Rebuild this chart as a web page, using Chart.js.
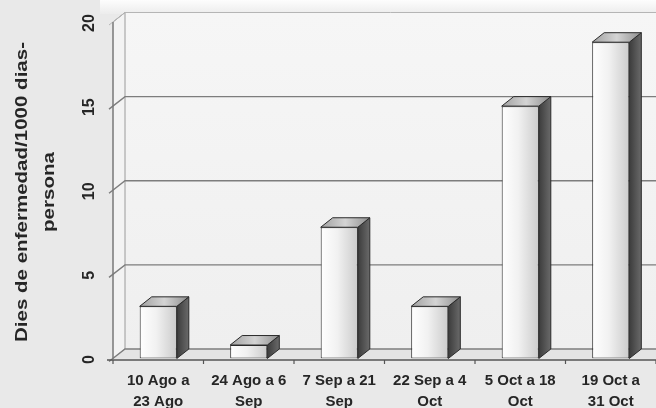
<!DOCTYPE html>
<html>
<head>
<meta charset="utf-8">
<script src="https://cdn.jsdelivr.net/npm/chart.js@4/dist/chart.umd.min.js"></script>
<style>
  html, body { margin: 0; padding: 0; background: #e9e9e9; }
  #wrap { width: 656px; height: 408px; }
</style>
</head>
<body>
<div id="wrap"><canvas id="c" width="656" height="408"></canvas></div>
<script>
// Periods (two-line labels) and sick days per 1000 person-days
const categories = [
  ["10 Ago a", "23 Ago"],
  ["24 Ago a 6", "Sep"],
  ["7 Sep a 21", "Sep"],
  ["22 Sep a 4", "Oct"],
  ["5 Oct a 18", "Oct"],
  ["19 Oct a", "31 Oct"]
];
const values = [3.1, 0.8, 7.8, 3.1, 15, 18.8];
const yTicks = [0, 5, 10, 15, 20];
const yTitle = ["Dies de enfermedad/1000 dias-", "persona"];

// depth of the box walls and of the columns
const WALL_DX = 12, WALL_DY = 9.5;
const BAR_DX = 12, BAR_DY = 9.5;
const BAR_PCT = 0.41;
const FONT = "'Liberation Sans', Arial, sans-serif";
const TITLE_LEN = 300; // length of the first title line along the axis

function frontFill(c) {
  const chart = c.chart;
  const xs = chart.scales.x;
  if (!xs || !chart.chartArea) return '#eeeeee';
  const cx = xs.getPixelForValue(c.dataIndex);
  const hw = (xs.width / categories.length) * BAR_PCT / 2;
  const g = chart.ctx.createLinearGradient(cx - hw, 0, cx + hw, 0);
  g.addColorStop(0, '#ffffff');
  g.addColorStop(0.45, '#f1f1f1');
  g.addColorStop(1, '#cbcbcb');
  return g;
}

const box3d = {
  id: 'box3d',
  beforeDraw(chart) {
    const ctx = chart.ctx;
    ctx.save();
    ctx.fillStyle = '#e9e9e9';
    ctx.fillRect(0, 0, chart.width, chart.height);
    const g = ctx.createLinearGradient(0, 0, 0, 14);
    g.addColorStop(0, '#fdfdfd');
    g.addColorStop(1, '#ececec');
    ctx.fillStyle = g;
    ctx.fillRect(100, 0, chart.width - 100, 14);
    ctx.restore();
  },
  beforeDatasetsDraw(chart) {
    const { ctx, chartArea: a, scales: { y } } = chart;
    const top = y.getPixelForValue(20), bot = y.getPixelForValue(0);
    const bx = a.left + WALL_DX;
    ctx.save();
    // back wall
    const wg = ctx.createLinearGradient(0, top - WALL_DY, 0, bot - WALL_DY);
    wg.addColorStop(0, '#f6f6f6');
    wg.addColorStop(1, '#efefef');
    ctx.fillStyle = wg;
    ctx.fillRect(bx, top - WALL_DY, a.right - bx, bot - top);
    // side wall
    ctx.beginPath();
    ctx.moveTo(a.left, top); ctx.lineTo(bx, top - WALL_DY);
    ctx.lineTo(bx, bot - WALL_DY); ctx.lineTo(a.left, bot); ctx.closePath();
    ctx.fillStyle = '#f3f3f3';
    ctx.fill();
    ctx.strokeStyle = '#9a9a9a'; ctx.lineWidth = 1;
    ctx.stroke();
    // floor
    ctx.beginPath();
    ctx.moveTo(a.left, bot); ctx.lineTo(bx, bot - WALL_DY);
    ctx.lineTo(a.right, bot - WALL_DY); ctx.lineTo(a.right, bot); ctx.closePath();
    ctx.fillStyle = '#e4e4e4';
    ctx.fill();
    // grid lines on side and back walls
    yTicks.forEach(v => {
      const py = y.getPixelForValue(v);
      ctx.beginPath();
      ctx.moveTo(a.left - 4, py + 3);
      ctx.lineTo(bx, py - WALL_DY);
      ctx.lineTo(a.right, py - WALL_DY);
      ctx.strokeStyle = v === 20 ? '#b5b5b5' : '#7d7d7d';
      ctx.lineWidth = v === 20 ? 1 : 1.4;
      ctx.stroke();
    });
    // vertical axis edge
    ctx.beginPath();
    ctx.moveTo(a.left, top); ctx.lineTo(a.left, bot);
    ctx.strokeStyle = '#777'; ctx.lineWidth = 1.2;
    ctx.stroke();
    // tick labels, rotated
    ctx.fillStyle = '#262626';
    ctx.font = 'bold 16px ' + FONT;
    ctx.textAlign = 'center';
    ctx.textBaseline = 'middle';
    yTicks.forEach(v => {
      const py = y.getPixelForValue(v) + 1;
      ctx.save();
      ctx.translate(90, py);
      ctx.rotate(-Math.PI / 2);
      ctx.fillText(String(v), 0, 0);
      ctx.restore();
    });
    // axis title, widened to span the axis
    ctx.font = 'bold 17px ' + FONT;
    const sx = TITLE_LEN / ctx.measureText(yTitle[0]).width;
    ctx.save();
    ctx.translate(22, 192);
    ctx.rotate(-Math.PI / 2);
    ctx.scale(sx, 1);
    ctx.fillText(yTitle[0], 0, 0);
    ctx.fillText(yTitle[1], 0, 27);
    ctx.restore();
    ctx.restore();
  },
  afterDatasetsDraw(chart) {
    const { ctx, chartArea: a, scales: { x, y } } = chart;
    const meta = chart.getDatasetMeta(0);
    ctx.save();
    ctx.lineJoin = 'round';
    ctx.strokeStyle = '#2a2a2a';
    ctx.lineWidth = 1;
    meta.data.forEach(bar => {
      const { x: cx, y: ty, base, width } = bar.getProps(['x', 'y', 'base', 'width'], true);
      const l = cx - width / 2, r = cx + width / 2;
      // side face
      const sg = ctx.createLinearGradient(r, 0, r + BAR_DX, 0);
      sg.addColorStop(0, '#3c3c3c');
      sg.addColorStop(1, '#6a6a6a');
      ctx.beginPath();
      ctx.moveTo(r, ty); ctx.lineTo(r + BAR_DX, ty - BAR_DY);
      ctx.lineTo(r + BAR_DX, base - BAR_DY); ctx.lineTo(r, base); ctx.closePath();
      ctx.fillStyle = sg; ctx.fill(); ctx.stroke();
      // top face
      const tg = ctx.createLinearGradient(l, 0, r + BAR_DX, 0);
      tg.addColorStop(0, '#a0a0a0');
      tg.addColorStop(0.5, '#d4d4d4');
      tg.addColorStop(1, '#8e8e8e');
      ctx.beginPath();
      ctx.moveTo(l, ty); ctx.lineTo(l + BAR_DX, ty - BAR_DY);
      ctx.lineTo(r + BAR_DX, ty - BAR_DY); ctx.lineTo(r, ty); ctx.closePath();
      ctx.fillStyle = tg; ctx.fill(); ctx.stroke();
    });
    // front axis line and ticks at category boundaries
    const bot = y.getPixelForValue(0) + 1.5;
    ctx.beginPath();
    ctx.moveTo(a.left - 6, bot); ctx.lineTo(a.right, bot);
    ctx.strokeStyle = '#555'; ctx.lineWidth = 1.5;
    ctx.stroke();
    const cw = x.width / categories.length;
    ctx.lineWidth = 1.2;
    for (let i = 0; i <= categories.length; i++) {
      const tx = x.getPixelForValue(i) - cw / 2;
      ctx.beginPath();
      ctx.moveTo(tx, bot); ctx.lineTo(tx, bot + 4);
      ctx.stroke();
    }
    // category labels
    ctx.fillStyle = '#262626';
    ctx.font = 'bold 15px ' + FONT;
    ctx.textAlign = 'center';
    ctx.textBaseline = 'middle';
    categories.forEach((lines, i) => {
      const lx = x.getPixelForValue(i);
      lines.forEach((t, k) => ctx.fillText(t, lx, 381 + k * 21));
    });
    ctx.restore();
  }
};

new Chart(document.getElementById('c'), {
  type: 'bar',
  data: {
    labels: categories,
    datasets: [{
      data: values,
      backgroundColor: frontFill,
      borderColor: '#2a2a2a',
      borderWidth: 1,
      borderSkipped: false,
      barPercentage: BAR_PCT,
      categoryPercentage: 1
    }]
  },
  options: {
    responsive: false,
    animation: false,
    layout: { padding: { left: 113, top: 22, right: 0, bottom: 49.5 } },
    plugins: { legend: { display: false }, tooltip: { enabled: false } },
    scales: {
      x: { display: false },
      y: { display: false, min: 0, max: 20 }
    }
  },
  plugins: [box3d]
});
</script>
</body>
</html>
